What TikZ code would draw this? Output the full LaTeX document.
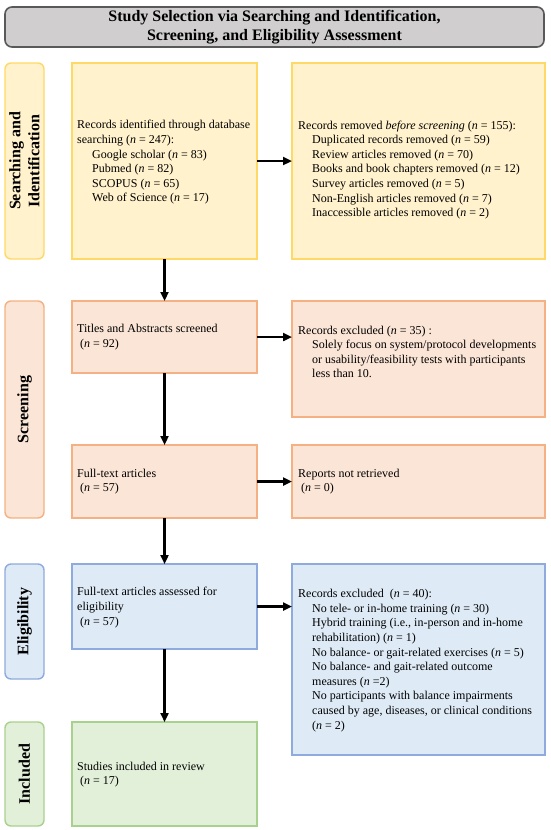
\documentclass[tikz,border=0pt]{standalone}
\usepackage{fontspec}
\setmainfont{Liberation Serif}
\usetikzlibrary{arrows.meta,calc}
\definecolor{yfill}{HTML}{FFF2CC}
\definecolor{ydraw}{HTML}{FFD966}
\definecolor{ofill}{HTML}{FBE5D6}
\definecolor{odraw}{HTML}{F4B183}
\definecolor{bfill}{HTML}{DEEBF7}
\definecolor{bdraw}{HTML}{8FAADC}
\definecolor{gfill}{HTML}{E2F0D9}
\definecolor{gdraw}{HTML}{A9D18E}
\definecolor{hfill}{HTML}{D0CECE}
\definecolor{hdraw}{HTML}{595959}
\begin{document}
\begin{tikzpicture}[x=1pt,y=-1pt,
  boxbase/.style={rectangle, line width=1.4pt, inner sep=0pt, outer sep=0pt},
  yel/.style={boxbase, draw=ydraw, fill=yfill},
  ora/.style={boxbase, draw=odraw, fill=ofill},
  blu/.style={boxbase, draw=bdraw, fill=bfill},
  gre/.style={boxbase, draw=gdraw, fill=gfill},
  lab/.style={rounded corners=6pt, minimum height=39pt, align=center, rotate=90,
    font=\fontsize{16}{19}\selectfont\bfseries},
  txt/.style={anchor=west, align=left, inner sep=0pt, font=\fontsize{12}{14.6}\selectfont},
  arr/.style={line width=2.6pt, -{Triangle[length=9pt,width=8pt]}}]
\useasboundingbox (0,0) rectangle (550,830);

% header
\node[draw=hdraw, fill=hfill, line width=1.6pt, rounded corners=7pt,
  minimum width=539pt, minimum height=40pt, inner sep=0pt, align=center,
  font=\fontsize{16}{19}\selectfont\bfseries] (head) at (274.5,27)
  {Study Selection via Searching and Identification,\\Screening, and Eligibility Assessment};

% stage labels
\node[boxbase, lab, draw=ydraw, fill=yfill, minimum width=196pt] (l1) at (24.5,161) {Searching and\\Identification};
\node[boxbase, lab, draw=odraw, fill=ofill, minimum width=217pt] (l2) at (24.5,409.5) {Screening};
\node[boxbase, lab, draw=bdraw, fill=bfill, minimum width=115pt] (l3) at (24.5,621.5) {Eligibility};
\node[boxbase, lab, draw=gdraw, fill=gfill, minimum width=104pt] (l4) at (24.5,774) {Included};

% left column
\node[yel, minimum width=185pt, minimum height=196pt] (b1) at (164.5,161) {};
\node[ora, minimum width=185pt, minimum height=72pt] (b2) at (164.5,337) {};
\node[ora, minimum width=185pt, minimum height=73pt] (b3) at (164.5,481.5) {};
\node[blu, minimum width=185pt, minimum height=85pt] (b4) at (164.5,606.5) {};
\node[gre, minimum width=185pt, minimum height=104pt] (b5) at (164.5,774) {};

% right column
\node[yel, minimum width=253pt, minimum height=196pt] (r1) at (418.5,161) {};
\node[ora, minimum width=253pt, minimum height=116pt] (r2) at (418.5,359) {};
\node[ora, minimum width=253pt, minimum height=73pt] (r3) at (418.5,481.5) {};
\node[blu, minimum width=253pt, minimum height=191pt] (r4) at (418.5,659.5) {};

% texts
\node[txt] (t1) at (77,162.5) {Records identified through database\\searching (\textit{n} = 247):\\
  \hspace*{15pt}Google scholar (\textit{n} = 83)\\
  \hspace*{15pt}Pubmed (\textit{n} = 82)\\
  \hspace*{15pt}SCOPUS (\textit{n} = 65)\\
  \hspace*{15pt}Web of Science (\textit{n} = 17)};
\node[txt] (u1) at (298,170) {Records removed \textit{before screening} (\textit{n} = 155):\\
  \hspace*{14pt}Duplicated records removed (\textit{n} = 59)\\
  \hspace*{14pt}Review articles removed (\textit{n} = 70)\\
  \hspace*{14pt}Books and book chapters removed (\textit{n} = 12)\\
  \hspace*{14pt}Survey articles removed (\textit{n} = 5)\\
  \hspace*{14pt}Non-English articles removed (\textit{n} = 7)\\
  \hspace*{14pt}Inaccessible articles removed (\textit{n} = 2)};
\node[txt] (t2) at (77,337) {Titles and Abstracts screened\\\hspace*{3pt}(\textit{n} = 92)};
\node[txt] (u2) at (298,352) {Records excluded (\textit{n} = 35) :\\
  \hspace*{14pt}Solely focus on system/protocol developments\\
  \hspace*{14pt}or usability/feasibility tests with participants\\
  \hspace*{14pt}less than 10.};
\node[txt] (t3) at (77,481.5) {Full-text articles\\\hspace*{3pt}(\textit{n} = 57)};
\node[txt] (u3) at (298,481.5) {Reports not retrieved\\\hspace*{3pt}(\textit{n} = 0)};
\node[txt] (t4) at (77,607.5) {Full-text articles assessed for\\eligibility\\\hspace*{3pt}(\textit{n} = 57)};
\node[txt] (u4) at (298,660.5) {Records excluded\ \ (\textit{n} = 40):\\
  \hspace*{14pt}No tele- or in-home training (\textit{n} = 30)\\
  \hspace*{14pt}Hybrid training (i.e., in-person and in-home\\
  \hspace*{14pt}rehabilitation) (\textit{n} = 1)\\
  \hspace*{14pt}No balance- or gait-related exercises (\textit{n} = 5)\\
  \hspace*{14pt}No balance- and gait-related outcome\\
  \hspace*{14pt}measures (\textit{n} =2)\\
  \hspace*{14pt}No participants with balance impairments\\
  \hspace*{14pt}caused by age, diseases, or clinical conditions\\
  \hspace*{14pt}(\textit{n} = 2)};
\node[txt] (t5) at (77,774.5) {Studies included in review\\\hspace*{3pt}(\textit{n} = 17)};

% arrows
\draw[arr] (b1) -- (b2);
\draw[arr] (b2) -- (b3);
\draw[arr] (b3) -- (b4);
\draw[arr] (b4) -- (b5);
\draw[arr] (b1) -- (r1);
\draw[arr] (b2.east) -- (b2.east -| r2.west);
\draw[arr] (b3) -- (r3);
\draw[arr] (b4.east) -- (b4.east -| r4.west);
\end{tikzpicture}
\end{document}
